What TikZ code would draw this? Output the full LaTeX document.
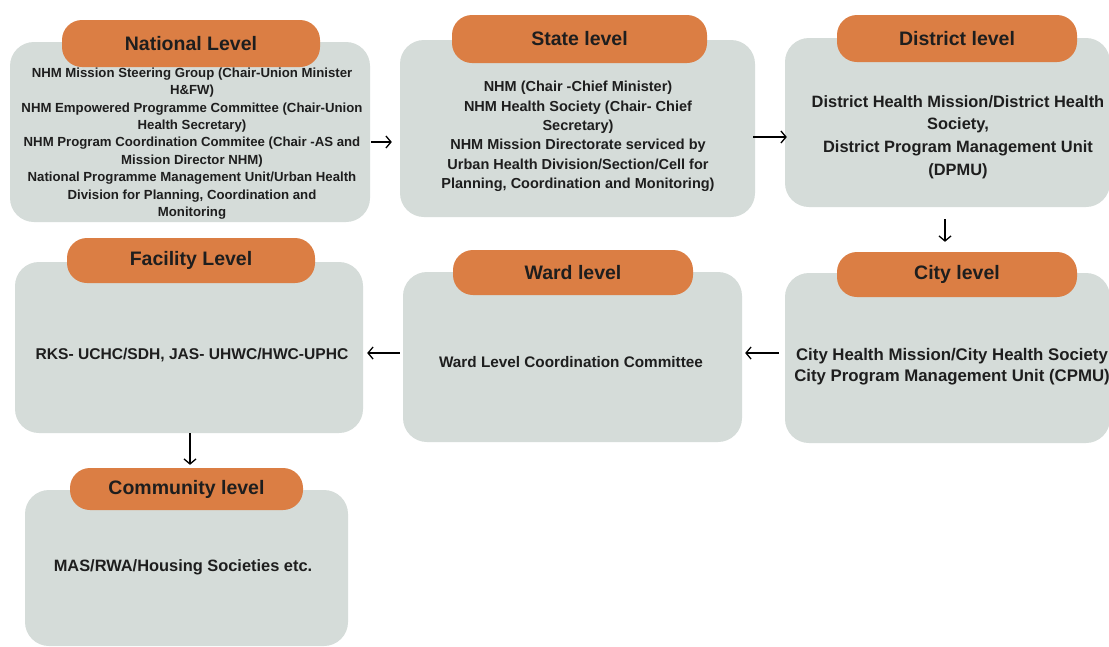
\documentclass[tikz,border=0pt]{standalone}
\usepackage{fontspec}
\setmainfont{Liberation Sans}
\usetikzlibrary{arrows.meta,calc}
\definecolor{boxgrey}{HTML}{D5DCD9}
\definecolor{pillorange}{HTML}{DB7E44}
\definecolor{txt}{HTML}{1E1E1E}
\tikzset{
  greybox/.style={fill=boxgrey, draw=none, rounded corners=24pt, inner sep=0pt},
  pill/.style={fill=pillorange, draw=none, rounded corners=20pt, inner sep=0pt, text=txt, font=\bfseries\fontsize{19.5}{22}\selectfont},
  body/.style={text=txt, align=center, inner sep=0pt},
  arr/.style={-{Straight Barb[length=5pt,width=12pt,line width=1.3pt]}, line width=1.5pt, black}
}
\begin{document}
\begin{tikzpicture}[x=1pt,y=-1pt]
\clip (0,0) rectangle (1109,646);
\fill[white] (0,0) rectangle (1109,646);
% grey boxes
\node[greybox, minimum width=360pt, minimum height=180pt] (nat) at (190,132) {};
\node[greybox, minimum width=355pt, minimum height=177pt] (state) at (577.5,128.5) {};
\node[greybox, minimum width=325pt, minimum height=169pt] (dist) at (947.5,122.5) {};
\node[greybox, minimum width=325pt, minimum height=170pt] (city) at (947.5,358) {};
\node[greybox, minimum width=339pt, minimum height=170pt] (ward) at (572.5,357) {};
\node[greybox, minimum width=348pt, minimum height=171pt] (fac) at (189,347.5) {};
\node[greybox, minimum width=323pt, minimum height=156pt] (comm) at (186.5,568) {};
% pills
\node[pill, minimum width=258pt, minimum height=47pt] (natP) at (191,43.5) {National Level};
\node[pill, minimum width=255pt, minimum height=48pt] (stateP) at (579.5,39) {State level};
\node[pill, minimum width=240pt, minimum height=47pt] (distP) at (957,38.5) {District level};
\node[pill, minimum width=240pt, minimum height=45pt] (cityP) at (957,274.5) {City level};
\node[pill, minimum width=240pt, minimum height=45pt] (wardP) at (573,272.5) {Ward level};
\node[pill, minimum width=248pt, minimum height=45pt] (facP) at (191,260.5) {Facility Level};
\node[pill, minimum width=233pt, minimum height=42pt] (commP) at (186.5,489) {Community level};
% body texts
\node[body, font=\bfseries\fontsize{13.2}{17.4}\selectfont] (natT) at (192,143.5) {NHM Mission Steering Group (Chair-Union Minister\\H\&FW)\\NHM Empowered Programme Committee (Chair-Union\\Health Secretary)\\NHM Program Coordination Commitee (Chair -AS and\\Mission Director NHM)\\National Programme Management Unit/Urban Health\\Division for Planning, Coordination and\\Monitoring};
\node[body, font=\bfseries\fontsize{14.5}{19.4}\selectfont] (stateT) at (578,136.5) {NHM (Chair -Chief Minister)\\NHM Health Society (Chair- Chief\\Secretary)\\NHM Mission Directorate serviced by\\Urban Health Division/Section/Cell for\\Planning, Coordination and Monitoring)};
\node[body, font=\bfseries\fontsize{16.4}{22.7}\selectfont] (distT) at (958,137) {District Health Mission/District Health\\Society,\\District Program Management Unit\\(DPMU)};
\node[body, font=\bfseries\fontsize{16.8}{21}\selectfont] (cityT) at (952,366.5) {City Health Mission/City Health Society\\City Program Management Unit (CPMU)};
\node[body, font=\bfseries\fontsize{15.3}{18}\selectfont] (wardT) at (571,362) {Ward Level Coordination Committee};
\node[body, font=\bfseries\fontsize{15.6}{18}\selectfont] (facT) at (192,355) {RKS- UCHC/SDH, JAS- UHWC/HWC-UPHC};
\node[body, font=\bfseries\fontsize{16.4}{18}\selectfont] (commT) at (183,567) {MAS/RWA/Housing Societies etc.};
% connectors
\draw[arr] ($(nat.east)+(1,10)$) -- ($(state.west)+(-8,13.5)$);
\draw[arr] ($(state.east)+(-2,8.5)$) -- ($(dist.west)+(2,14.5)$);
\draw[arr] ($(dist.south)+(-2.5,12)$) -- ($(cityP.north)+(-12,-10)$);
\draw[arr] ($(city.west)+(-6,-5)$) -- ($(ward.east)+(3,-4)$);
\draw[arr] ($(ward.west)+(-3,-4)$) -- ($(fac.east)+(4,5.5)$);
\draw[arr] ($(fac.south)+(1,0)$) -- ($(commP.north)+(3.5,-3)$);
\end{tikzpicture}
\end{document}
